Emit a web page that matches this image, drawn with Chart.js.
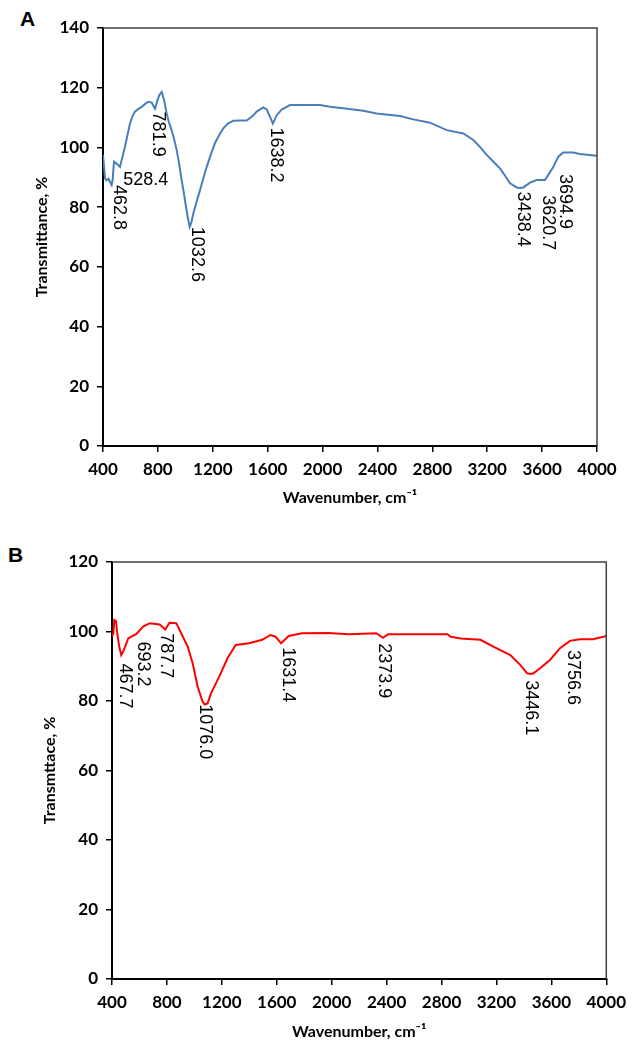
<!DOCTYPE html>
<html lang="en">
<head>
    <meta charset="UTF-8">
    <title>FTIR spectra A and B</title>
    <script src="https://cdn.jsdelivr.net/npm/chart.js"></script>
    <style>
        body { margin: 0; background: #fff; width: 633px; height: 1046px; position: relative; overflow: hidden; }
        .panel { position: absolute; left: 0; width: 633px; }
        .letter { position: absolute; font: bold 21px "Liberation Sans", Arial, sans-serif; line-height: 21px; color: #000; }
    </style>
</head>
<body>
    <div class="letter" style="left:20px; top:8px;">A</div>
    <div class="letter" style="left:8px; top:544px;">B</div>
    <div class="panel" style="top:0; height:520px;"><canvas id="chartA"></canvas></div>
    <div class="panel" style="top:520px; height:526px;"><canvas id="chartB"></canvas></div>

    <script>
        // Spectrum A (wavenumber, transmittance %)
        const wnA = [400, 415, 425, 440, 450, 463, 470, 480, 500, 524, 540, 560, 580, 597, 615, 633, 660, 682, 705, 730,
            755, 779, 795, 810, 828, 845, 864, 880, 900, 920, 937, 955, 973, 990, 1005, 1020, 1032, 1045, 1058, 1080,
            1107, 1130, 1156, 1185, 1216, 1245, 1277, 1310, 1350, 1400, 1447, 1490, 1520, 1568, 1593, 1615, 1638, 1666,
            1702, 1763, 1981, 2054, 2151, 2297, 2394, 2564, 2661, 2783, 2905, 3026, 3099, 3150, 3196, 3245, 3293, 3330,
            3366, 3415, 3438, 3463, 3512, 3561, 3621, 3645, 3682, 3718, 3754, 3827, 3876, 3998];
        const tA = [97.5, 89.6, 89.0, 89.5, 88.6, 87.4, 89.0, 95.2, 94.5, 93.5, 96.5, 100.2, 104.5, 108.0, 110.5, 112.0, 113.0, 113.6, 114.5, 115.3,
            115.0, 113.0, 115.5, 117.5, 118.6, 115.9, 111.4, 108.5, 105.8, 102.5, 99.1, 94.5, 89.1, 84.5, 80.1, 76.0, 73.4, 75.0, 77.9, 81.5,
            85.7, 89.5, 93.5, 97.5, 101.4, 104.0, 106.4, 108.0, 108.9, 109.0, 109.0, 110.5, 112.0, 113.4, 112.7, 110.5, 108.0, 110.8,
            112.7, 114.2, 114.2, 113.6, 113.1, 112.3, 111.4, 110.5, 109.4, 108.3, 105.8, 104.7, 102.5, 100.0, 97.5, 95.2, 93.0, 90.5,
            88.0, 86.6, 86.4, 86.6, 88.2, 89.1, 89.1, 90.8, 93.5, 96.9, 98.3, 98.3, 97.8, 97.2];

        // Spectrum B
        const wnB = [400, 410, 417, 429, 438, 453, 467.7, 487, 518, 578, 626, 675, 747, 787.7, 819, 868, 904, 952, 988, 1024,
            1060, 1076, 1096, 1121, 1181, 1241, 1301, 1398, 1494, 1554, 1591, 1631.4, 1687, 1783, 1976, 2121, 2325, 2373.9,
            2410, 2843, 2867, 2940, 3084, 3181, 3301, 3373, 3422, 3446.1, 3470, 3518, 3590, 3663, 3735, 3807, 3904, 4000];
        const tB = [98.5, 99.5, 103.3, 103.0, 99.5, 95.6, 93.2, 94.7, 98.0, 99.3, 101.4, 102.4, 102.0, 100.6, 102.5, 102.4, 99.5, 95.6, 90.8, 84.1,
            79.8, 79.0, 79.3, 82.2, 87.0, 92.3, 96.1, 96.6, 97.6, 99.0, 98.5, 96.6, 98.7, 99.5, 99.6, 99.2, 99.5, 98.2,
            99.2, 99.2, 98.5, 98.0, 97.6, 95.6, 93.2, 90.4, 88.0, 87.8, 88.0, 89.4, 91.8, 95.2, 97.3, 97.8, 97.8, 98.7];

        // Peak labels: text and anchor in data units (wavenumber, %)
        const peaksA = [
            { text: '462.8', wn: 519, t: 87.4, rot: true },
            { text: '528.4', wn: 548, t: 89.1, rot: false },
            { text: '781.9', wn: 803, t: 112.0, rot: true },
            { text: '1032.6', wn: 1083, t: 73.4, rot: true },
            { text: '1638.2', wn: 1658, t: 106.7, rot: true },
            { text: '3438.4', wn: 3463, t: 85.2, rot: true },
            { text: '3620.7', wn: 3645, t: 84.0, rot: true },
            { text: '3694.9', wn: 3767, t: 91.1, rot: true }
        ];
        const peaksB = [
            { text: '467.7', wn: 494, t: 90.8, rot: true },
            { text: '693.2', wn: 622, t: 97.1, rot: true },
            { text: '787.7', wn: 795, t: 99.5, rot: true },
            { text: '1076.0', wn: 1080, t: 79.1, rot: true },
            { text: '1631.4', wn: 1682, t: 95.5, rot: true },
            { text: '2373.9', wn: 2381, t: 96.6, rot: true },
            { text: '3446.1', wn: 3453, t: 86.0, rot: true },
            { text: '3756.6', wn: 3754, t: 94.7, rot: true }
        ];

        const xTicks = [400, 800, 1200, 1600, 2000, 2400, 2800, 3200, 3600, 4000];

        const tickFont = { family: 'Lato', weight: 'bold', size: 17 };

        // draws the top/right frame and the peak labels
        const extras = {
            id: 'extras',
            afterDatasetsDraw(chart, args, opts) {
                const ctx = chart.ctx;
                const a = chart.chartArea;
                ctx.save();
                ctx.strokeStyle = '#404040';
                ctx.lineWidth = 1.5;
                ctx.beginPath();
                ctx.moveTo(a.left, a.top);
                ctx.lineTo(a.right, a.top);
                ctx.lineTo(a.right, a.bottom);
                ctx.stroke();

                ctx.fillStyle = '#000';
                ctx.font = '18px "Liberation Sans", Arial, sans-serif';
                ctx.textAlign = 'left';
                ctx.textBaseline = 'middle';
                opts.peaks.forEach(p => {
                    const px = chart.scales.x.getPixelForValue(p.wn);
                    const py = chart.scales.y.getPixelForValue(p.t);
                    ctx.save();
                    ctx.translate(px, py);
                    if (p.rot) ctx.rotate(Math.PI / 2);
                    ctx.fillText(p.text, 0, 0);
                    ctx.restore();
                });
                ctx.restore();
            }
        };

        function makeChart(id, wn, t, color, yMax, yTitle, peaks, lay) {
            const points = wn.map((w, i) => ({ x: w, y: t[i] }));
            return new Chart(document.getElementById(id), {
                type: 'line',
                data: {
                    datasets: [{
                        data: points,
                        borderColor: color,
                        borderWidth: 2,
                        pointRadius: 0,
                        tension: 0,
                        fill: false
                    }]
                },
                options: {
                    responsive: true,
                    maintainAspectRatio: false,
                    animation: false,
                    layout: { padding: { top: lay.top, right: lay.right, left: lay.left, bottom: 0 } },
                    plugins: {
                        legend: { display: false },
                        tooltip: { enabled: false },
                        extras: { peaks: peaks }
                    },
                    scales: {
                        x: {
                            type: 'linear',
                            min: 400,
                            max: 4000,
                            afterBuildTicks: (s) => { s.ticks = xTicks.map(v => ({ value: v })); },
                            afterFit: (s) => { s.height = lay.xh; },
                            grid: { drawOnChartArea: false, drawTicks: true, tickLength: 6, color: '#000', lineWidth: 1.5 },
                            border: { color: '#000', width: 2 },
                            ticks: { font: tickFont, color: '#000', padding: 7, maxRotation: 0, autoSkip: false, callback: v => String(v) },
                            title: {
                                display: true,
                                text: 'Wavenumber, cm\u207B\u00B9',
                                font: { family: 'Lato', weight: 'bold', size: 16 },
                                color: '#000',
                                padding: { top: 0, bottom: lay.xtp }
                            }
                        },
                        y: {
                            min: 0,
                            max: yMax,
                            afterFit: (s) => { s.width = lay.yw; },
                            grid: { drawOnChartArea: false, drawTicks: true, tickLength: 6, color: '#000', lineWidth: 1.5 },
                            border: { color: '#000', width: 2 },
                            ticks: { stepSize: 20, font: tickFont, color: '#000', padding: 8, callback: v => String(v) },
                            title: {
                                display: true,
                                text: yTitle,
                                font: { family: 'Lato', weight: 'bold', size: 16 },
                                color: '#000',
                                padding: { top: 4, bottom: 0 }
                            }
                        }
                    }
                },
                plugins: [extras]
            });
        }

        makeChart('chartA', wnA, tA, '#4A7EBB', 140, 'Transmittance, %', peaksA,
            { top: 28, right: 36, left: 28, yw: 75, xh: 74, xtp: 13 });
        makeChart('chartB', wnB, tB, '#FF0000', 120, 'Transmttace, %', peaksB,
            { top: 42, right: 23, left: 36, yw: 76, xh: 67, xtp: 5 });
    </script>
</body>
</html>
